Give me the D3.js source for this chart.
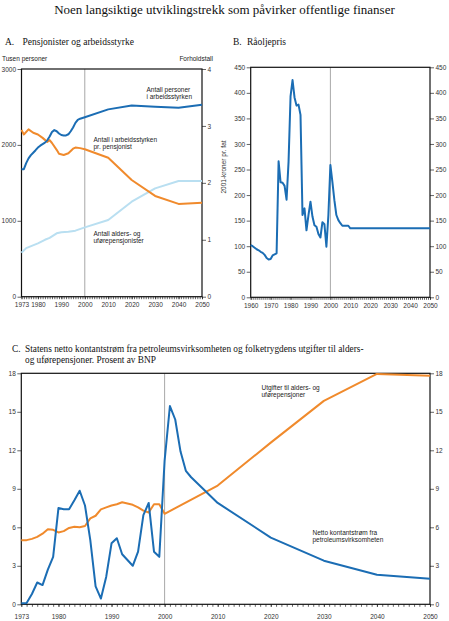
<!DOCTYPE html>
<html>
<head>
<meta charset="utf-8">
<script src="https://cdn.jsdelivr.net/npm/d3@7"></script>
<style>
  body { margin: 0; background: #fff; }
  svg { display: block; }
</style>
</head>
<body>
<svg id="chart" width="449" height="621"></svg>
<script>
// COLORS
var darkBlue = "#1b6db4";
var orange = "#f08a2c";
var lightBlue = "#b9dff1";
var refLineColor = "#a8a8a8";

var serif = "'Liberation Serif', 'Times New Roman', serif";
var sans = "'Liberation Sans', Arial, sans-serif";

// PANEL A - Pensjonister og arbeidsstyrke (tusen personer / forholdstall)
var labourYears = [1973,1974,1975,1976,1977,1978,1979,1980,1981,1982,1983,1984,1985,1986,1987,1988,1989,1990,1991,1992,1993,1994,1995,1996,1997,1998,1999,2000,2010,2020,2030,2040,2050];
var labour = [1678,1680,1760,1822,1865,1897,1930,1965,1990,2010,2030,2060,2110,2170,2195,2180,2150,2130,2125,2125,2140,2180,2230,2290,2330,2345,2355,2365,2468,2520,2503,2490,2530];

var ratioYears = [1973,1974,1976,1978,1980,1982,1984,1985,1986,1988,1989,1991,1993,1995,1996,1998,2000,2010,2020,2030,2040,2050];
var ratio = [2.93,2.85,2.94,2.88,2.85,2.79,2.72,2.75,2.70,2.58,2.51,2.49,2.52,2.60,2.62,2.61,2.59,2.44,2.05,1.77,1.63,1.65];

var pensYears = [1973,1975,1980,1983,1985,1988,1990,1993,1996,2000,2010,2020,2030,2040,2050];
var pensioners = [580,640,703,750,775,835,850,855,870,913,1010,1252,1427,1524,1524];

var ticksA_left = [0,1000,2000,3000];
var ticksA_right = [0,1,2,3,4];
var labelsA_x = [1973,1980,1990,2000,2010,2020,2030,2040,2050];

// PANEL B - Råoljepris (2001-kroner pr. fat)
var oilYears = [1960,1961,1962,1963,1964,1965,1966,1967,1968,1969,1970,1971,1972,1973,1974,1975,1976,1977,1978,1979,1980,1981,1982,1983,1984,1985,1986,1987,1988,1989,1990,1991,1992,1993,1994,1995,1996,1997,1998,1999,2000,2001,2002,2003,2004,2005,2006,2007,2008,2009,2010,2050];
var oil = [102,100,97,94,92,89,87,83,77,74,75,82,84,86,266,225,224,218,191,265,393,425,391,375,377,357,161,174,131,161,187,158,141,138,124,117,147,143,99,161,259,226,190,161,151,145,140,140,140,140,135,135];

var ticksB_y = [0,50,100,150,200,250,300,350,400,450];
var labelsB_x = [1960,1970,1980,1990,2000,2010,2020,2030,2040,2050];

// PANEL C - Prosent av BNP
var cashYears = [1973,1974,1975,1976,1977,1978,1979,1980,1981,1982,1983,1984,1985,1986,1987,1988,1989,1990,1991,1992,1993,1994,1995,1996,1997,1998,1999,2000,2001,2002,2003,2004,2005,2010,2020,2030,2040,2050];
var cashflow = [0.08,0.1,0.8,1.7,1.5,2.7,3.7,7.5,7.4,7.4,8.1,8.85,7.7,5.0,1.4,0.45,2.15,4.75,5.15,3.9,3.45,3.0,4.1,6.95,7.9,4.1,3.7,11.2,15.45,14.4,11.9,10.4,9.9,7.9,5.2,3.4,2.3,2.0];

var costYears = [1973,1974,1975,1976,1977,1978,1979,1980,1981,1982,1983,1984,1985,1986,1987,1988,1989,1990,1991,1992,1993,1994,1995,1996,1997,1998,1999,2000,2010,2020,2030,2040,2050];
var pensionCost = [5.0,5.0,5.1,5.25,5.5,5.85,5.8,5.6,5.7,5.95,6.05,6.0,6.1,6.7,6.9,7.4,7.55,7.7,7.8,7.95,7.85,7.75,7.55,7.3,7.15,7.8,7.8,7.05,9.25,12.6,15.85,17.95,17.8];

var ticksC_y = [0,3,6,9,12,15,18];
var labelsC_x = [1973,1980,1990,2000,2010,2020,2030,2040,2050];

var svg = d3.select("#chart");

function pairs(xs, ys){
    return xs.map(function(d,i){ return [d, ys[i]]; });
}

function yearRange(a,b){
    return d3.range(a, b+1);
}

// draws frame, axes and the 2000 reference line of one panel
function drawFrame(p){
    var x = p.x, yl = p.yl, yr = p.yr;
    var x0 = x.range()[0], x1 = x.range()[1];
    var y0 = yl.range()[0], y1 = yl.range()[1];
    var fmt = d3.format("d");

    // 2000 line
    svg.append("line")
        .attr("x1", x(2000)).attr("x2", x(2000))
        .attr("y1", y0).attr("y2", y1)
        .attr("stroke", refLineColor)
        .attr("stroke-width", 1);

    var gl = svg.append("g")
        .attr("transform", "translate(" + x0 + ",0)")
        .call(d3.axisLeft(yl).tickValues(p.ticksL).tickSize(4).tickSizeOuter(0).tickPadding(1.5).tickFormat(fmt));
    var gr = svg.append("g")
        .attr("transform", "translate(" + x1 + ",0)")
        .call(d3.axisRight(yr).tickValues(p.ticksR).tickSize(4).tickSizeOuter(0).tickPadding(1.5).tickFormat(fmt));
    var gm = svg.append("g")
        .attr("transform", "translate(0," + y0 + ")")
        .call(d3.axisBottom(x).tickValues(p.minorX).tickSize(2.5).tickSizeOuter(0).tickFormat(""));
    var gb = svg.append("g")
        .attr("transform", "translate(0," + y0 + ")")
        .call(d3.axisBottom(x).tickValues(p.labelsX).tickSize(2.5).tickSizeOuter(0)
            .tickPadding(p.xPad).tickFormat(fmt));

    [gl, gr, gm, gb].forEach(function(g){
        g.select(".domain").remove();
        g.selectAll("line").attr("stroke", "#222").attr("stroke-width", 0.7);
        g.selectAll("text")
            .attr("font-family", sans)
            .attr("font-size", 6.5)
            .attr("fill", "#333");
    });

    // frame
    svg.append("rect")
        .attr("x", x0).attr("y", y1)
        .attr("width", x1 - x0).attr("height", y0 - y1)
        .attr("fill", "none")
        .attr("stroke", "#111")
        .attr("stroke-width", 1.2);
}

function drawLine(x, y, data, color){
    svg.append("path")
        .datum(data)
        .attr("fill", "none")
        .attr("stroke", color)
        .attr("stroke-width", 2)
        .attr("stroke-linejoin", "round")
        .attr("d", d3.line().x(function(d){ return x(d[0]); }).y(function(d){ return y(d[1]); }));
}

function label(lines, x, y, opts){
    opts = opts || {};
    var t = svg.append("text")
        .attr("font-family", opts.font || sans)
        .attr("font-size", opts.size || 6.5)
        .attr("fill", opts.fill || "#222")
        .attr("text-anchor", opts.anchor || "start");
    lines.forEach(function(l, i){
        t.append("tspan").attr("x", x).attr("y", y + i * (opts.lh || 7.3)).text(l);
    });
    return t;
}

// MAIN TITLE
label(["Noen langsiktige utviklingstrekk som påvirker offentlige finanser"], 224.5, 14,
    {font: serif, size: 13, anchor: "middle", fill: "#111"});

// ---------- PANEL A ----------
var xA = d3.scaleLinear().domain([1973, 2050]).range([21.5, 202]);
var yA = d3.scaleLinear().domain([0, 3000]).range([296.7, 69]);
var yA2 = d3.scaleLinear().domain([0, 4]).range([296.7, 69]);

drawFrame({x: xA, yl: yA, yr: yA2, ticksL: ticksA_left, ticksR: ticksA_right,
    minorX: yearRange(1973, 2050), labelsX: labelsA_x, xPad: 3.6});

drawLine(xA, yA, pairs(pensYears, pensioners), lightBlue);
drawLine(xA, yA2, pairs(ratioYears, ratio), orange);
drawLine(xA, yA, pairs(labourYears, labour), darkBlue);

label(["A."], 5, 45, {font: serif, size: 9.5, fill: "#111"});
label(["Pensjonister og arbeidsstyrke"], 22.5, 45, {font: serif, size: 9.5, fill: "#111"});
label(["Tusen personer"], 2, 60.5, {size: 6.5});
label(["Forholdstall"], 213, 60.5, {size: 6.5, anchor: "end"});
label(["Antall personer", "i arbeidsstyrken"], 146.5, 91.5);
label(["Antall i arbeidsstyrken", "pr. pensjonist"], 93.5, 141.5);
label(["Antall alders- og", "uførepensjonister"], 93.5, 236);

// ---------- PANEL B ----------
var xB = d3.scaleLinear().domain([1960, 2050]).range([250.7, 430]);
var yB = d3.scaleLinear().domain([0, 450]).range([297.3, 67.3]);

drawFrame({x: xB, yl: yB, yr: yB, ticksL: ticksB_y, ticksR: ticksB_y,
    minorX: yearRange(1960, 2050), labelsX: labelsB_x, xPad: 3.6});

drawLine(xB, yB, pairs(oilYears, oil), darkBlue);

label(["B."], 233, 45, {font: serif, size: 9.5, fill: "#111"});
label(["Råoljepris"], 247, 45, {font: serif, size: 9.5, fill: "#111"});
svg.append("text")
    .attr("transform", "translate(225.5,167) rotate(-90)")
    .attr("text-anchor", "middle")
    .attr("font-family", sans)
    .attr("font-size", 6.5)
    .attr("fill", "#333")
    .text("2001-kroner pr. fat");

// ---------- PANEL C ----------
var xC = d3.scaleLinear().domain([1973, 2050]).range([21.3, 430]);
var yC = d3.scaleLinear().domain([0, 18]).range([604.3, 373.3]);

drawFrame({x: xC, yl: yC, yr: yC, ticksL: ticksC_y, ticksR: ticksC_y,
    minorX: yearRange(1973, 2050), labelsX: labelsC_x, xPad: 7.5});

drawLine(xC, yC, pairs(costYears, pensionCost), orange);
drawLine(xC, yC, pairs(cashYears, cashflow), darkBlue);

label(["C."], 12, 352, {font: serif, size: 9.3, fill: "#111"});
label(["Statens netto kontantstrøm fra petroleumsvirksomheten og folketrygdens utgifter til alders-",
       "og uførepensjoner. Prosent av BNP"], 25, 352, {font: serif, size: 9.3, fill: "#111", lh: 10.5});
label(["Utgifter til alders- og", "uførepensjoner"], 261.5, 390);
label(["Netto kontantstrøm fra", "petroleumsvirksomheten"], 312.5, 535);
</script>
</body>
</html>
